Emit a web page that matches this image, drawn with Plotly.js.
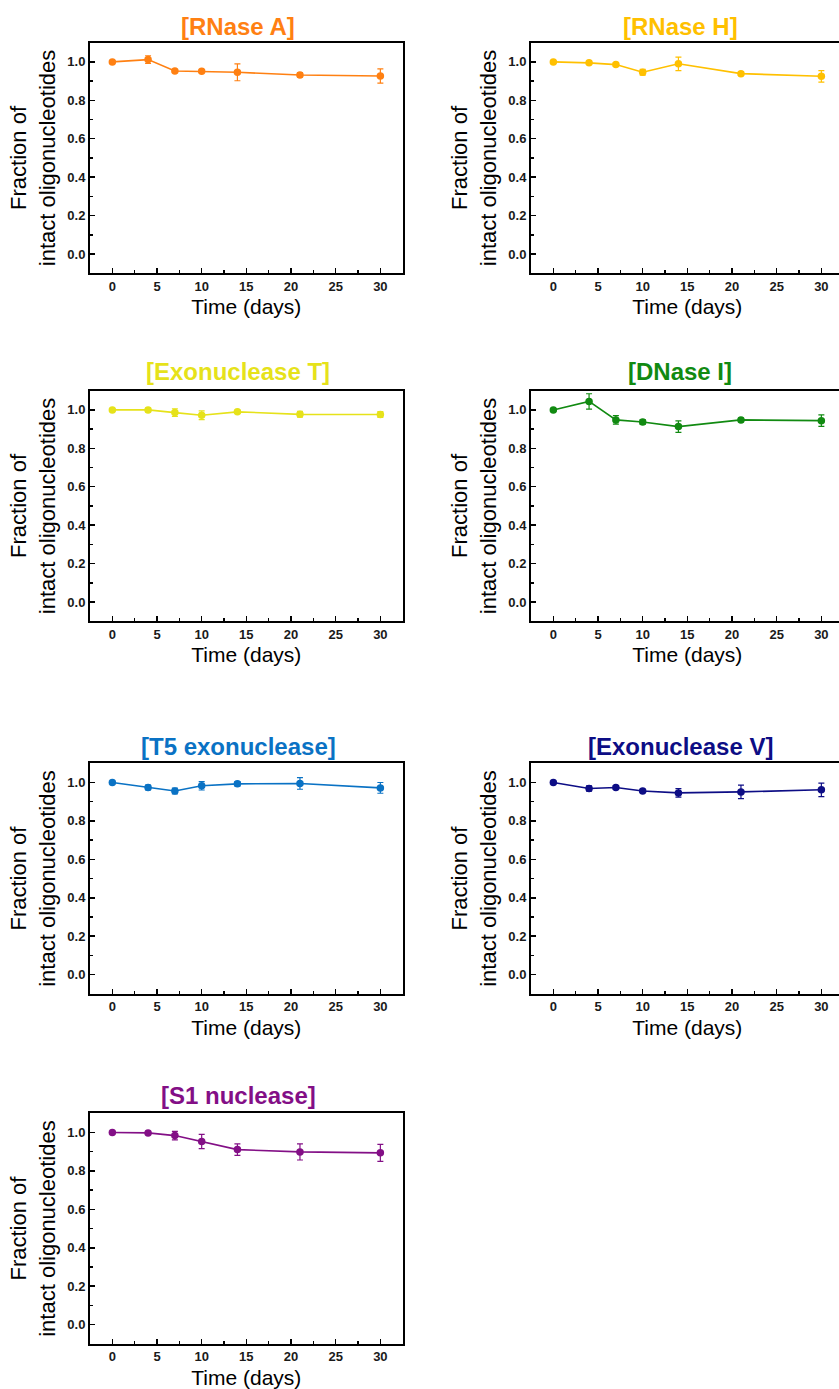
<!DOCTYPE html>
<html>
<head>
<meta charset="utf-8">
<script src="https://cdn.plot.ly/plotly-3.0.1.min.js"></script>
<style>
html,body{margin:0;padding:0;background:#fff;overflow:hidden;}
#chart{width:860px;height:1389px;}
</style>
</head>
<body>
<div id="chart"></div>
<script>
// ---- data ----
const days = [0, 4, 7, 10, 14, 21, 30];

const rnaseA     = [1.000, 1.012, 0.953, 0.951, 0.946, 0.932, 0.927];
const rnaseAErr  = [0.004, 0.020, 0.006, 0.006, 0.044, 0.012, 0.037];

const rnaseH     = [1.000, 0.995, 0.986, 0.946, 0.990, 0.939, 0.925];
const rnaseHErr  = [0.004, 0.006, 0.010, 0.015, 0.035, 0.010, 0.030];

const exoT       = [1.000, 1.000, 0.986, 0.972, 0.990, 0.977, 0.976];
const exoTErr    = [0.004, 0.010, 0.020, 0.023, 0.008, 0.015, 0.015];

const dnaseI     = [1.000, 1.044, 0.948, 0.937, 0.913, 0.948, 0.944];
const dnaseIErr  = [0.004, 0.040, 0.022, 0.012, 0.030, 0.010, 0.030];

const t5Exo      = [1.000, 0.974, 0.956, 0.983, 0.993, 0.995, 0.972];
const t5ExoErr   = [0.004, 0.012, 0.015, 0.022, 0.012, 0.030, 0.028];

const exoV       = [1.000, 0.969, 0.974, 0.956, 0.946, 0.951, 0.962];
const exoVErr    = [0.004, 0.014, 0.010, 0.008, 0.022, 0.035, 0.035];

const s1         = [1.000, 0.998, 0.984, 0.953, 0.911, 0.899, 0.894];
const s1Err      = [0.004, 0.008, 0.022, 0.037, 0.030, 0.042, 0.044];

const panelTitles = ['[RNase A]', '[RNase H]', '[Exonuclease T]', '[DNase I]',
                     '[T5 exonuclease]', '[Exonuclease V]', '[S1 nuclease]'];
const panelColors = ['#FF8012', '#FFC000', '#E6E21A', '#118A11',
                     '#0A72C4', '#0D0D85', '#830F86'];
const seriesVals = [rnaseA, rnaseH, exoT, dnaseI, t5Exo, exoV, s1];
const seriesErrs = [rnaseAErr, rnaseHErr, exoTErr, dnaseIErr, t5ExoErr, exoVErr, s1Err];

const xTitle = 'Time (days)';
const yTitle = 'Fraction of<br>intact oligonucleotides';

// ---- layout geometry (pixels) ----
const W = 860, H = 1389;
const colLeft = [90, 531];
const plotW = 312.7;
const rowTop = [42.7, 390.7, 763.3, 1113.3];
const plotH = 230.5;
const titleY = [26.7, 371.7, 746, 1095];
const titleX = [238, 680];

const traces = [];
const layout = {
  width: W, height: H,
  margin: {l: 0, r: 0, t: 0, b: 0},
  paper_bgcolor: '#fff', plot_bgcolor: '#fff',
  showlegend: false,
  font: {family: 'Liberation Sans, Arial, sans-serif', color: '#000'},
  annotations: []
};

for (let i = 0; i < seriesVals.length; i++) {
  const row = Math.floor(i / 2), col = i % 2;
  const n = i + 1;
  const xa = n === 1 ? 'xaxis' : 'xaxis' + n;
  const ya = n === 1 ? 'yaxis' : 'yaxis' + n;
  const c = panelColors[i];
  traces.push({
    x: days, y: seriesVals[i],
    xaxis: 'x' + (n === 1 ? '' : n), yaxis: 'y' + (n === 1 ? '' : n),
    type: 'scatter', mode: 'lines+markers',
    line: {color: c, width: 1.6},
    marker: {color: c, size: 7.5},
    error_y: {type: 'data', array: seriesErrs[i], visible: true, color: c, thickness: 1.2, width: 3},
    hoverinfo: 'x+y'
  });
  const x0 = colLeft[col], y0 = rowTop[row];
  const common = {
    showline: true, mirror: true, linecolor: '#000', linewidth: 2,
    ticks: 'inside', ticklen: 5, tickwidth: 1.5, tickcolor: '#000',
    showgrid: false, zeroline: false,
    tickfont: {family: 'Liberation Sans Narrow, Arial Narrow, Liberation Sans, Arial', size: 13, color: '#1a1a1a', weight: 'bold'}
  };
  layout[xa] = Object.assign({}, common, {
    domain: [x0 / W, (x0 + plotW) / W],
    anchor: 'y' + (n === 1 ? '' : n),
    range: [-2.5, 32.5], tickvals: [0, 5, 10, 15, 20, 25, 30],
    minor: {ticks: 'inside', ticklen: 3, tickwidth: 1.5, tickcolor: '#000', dtick: 2.5, tick0: 0},
    title: {text: xTitle, standoff: 7, font: {family: 'Liberation Sans, Arial, sans-serif', size: 21, color: '#000'}}
  });
  layout[ya] = Object.assign({}, common, {
    domain: [1 - (y0 + plotH) / H, 1 - y0 / H],
    anchor: 'x' + (n === 1 ? '' : n),
    range: [-0.1, 1.1], tick0: 0, dtick: 0.2, tickformat: '.1f',
    minor: {ticks: 'inside', ticklen: 3, tickwidth: 1.5, tickcolor: '#000', dtick: 0.1, tick0: 0},
    title: {text: yTitle, standoff: 6, font: {family: 'Liberation Sans, Arial, sans-serif', size: 22, color: '#000'}}
  });
  layout.annotations.push({
    text: '<b>' + panelTitles[i] + '</b>',
    xref: 'paper', yref: 'paper',
    x: titleX[col] / W, y: 1 - titleY[row] / H,
    xanchor: 'center', yanchor: 'middle', showarrow: false,
    font: {family: 'Liberation Sans, Arial, sans-serif', size: 24, color: c}
  });
}

Plotly.newPlot('chart', traces, layout, {staticPlot: true, displayModeBar: false});
</script>
</body>
</html>
